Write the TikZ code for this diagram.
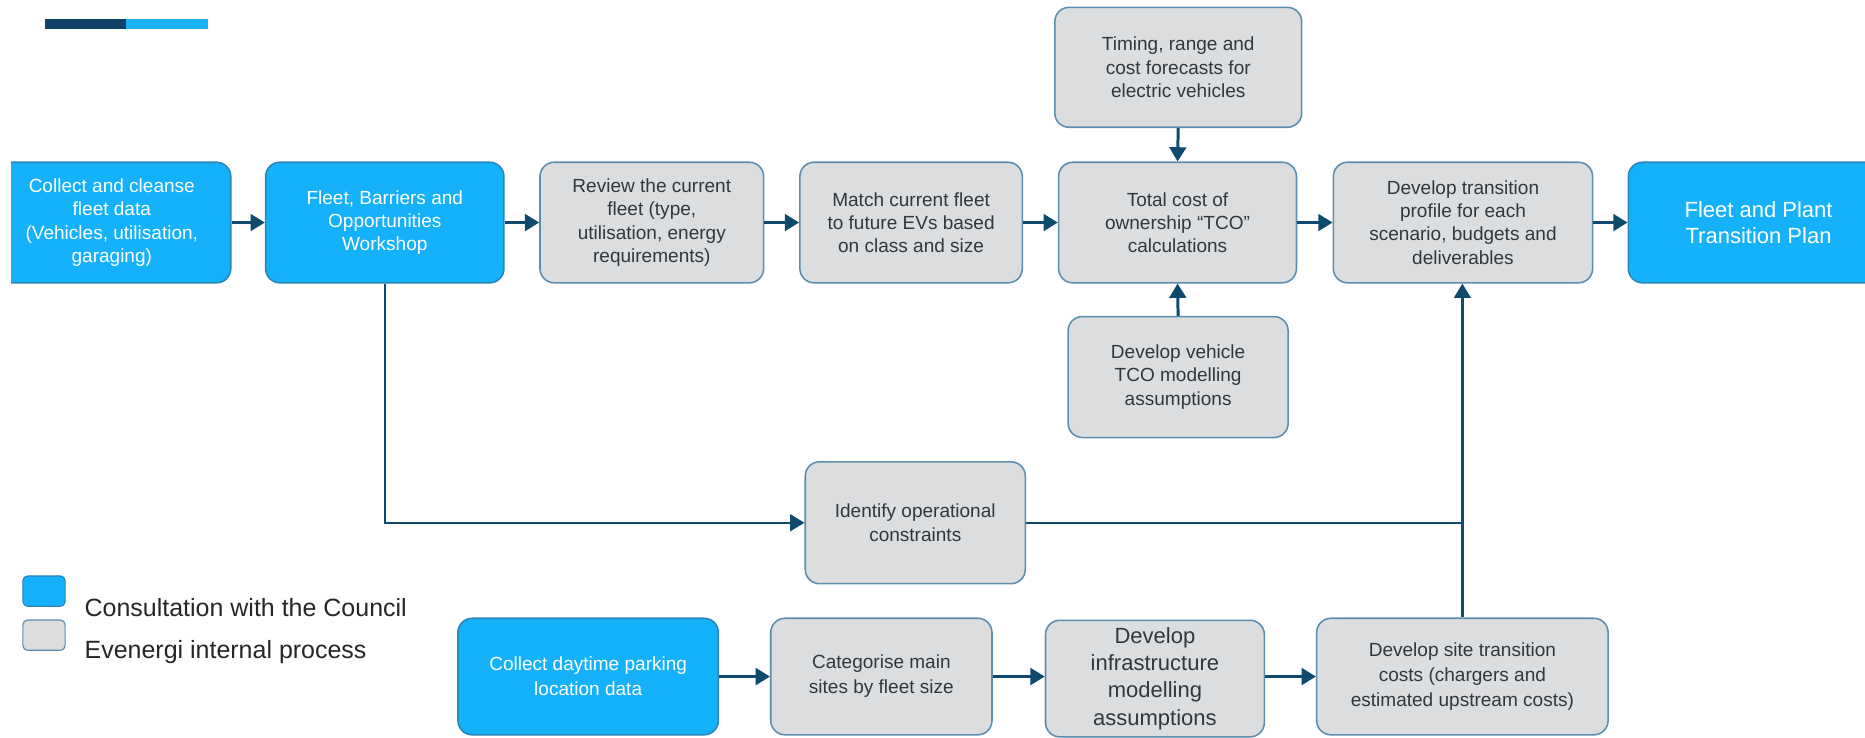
\documentclass[tikz,border=0pt]{standalone}
\usepackage{fontspec}
\setmainfont{Liberation Sans}
\usetikzlibrary{arrows.meta}
\definecolor{cblue}{HTML}{15B1FA}
\definecolor{blueline}{HTML}{2A86B8}
\definecolor{cgray}{HTML}{DCDDDE}
\definecolor{grayline}{HTML}{5B8DAE}
\definecolor{arrowc}{HTML}{0D4A6E}
\definecolor{txtgray}{HTML}{2F3840}
\definecolor{bardark}{HTML}{0F4266}
\definecolor{barlight}{HTML}{1AB2F4}
\tikzset{
  box/.style={line width=1.3pt, rounded corners=12pt, align=center, inner sep=0pt,
    font=\fontsize{16}{19.5}\selectfont},
  bluebox/.style={box, fill=cblue, draw=blueline, text=white},
  graybox/.style={box, fill=cgray, draw=grayline, text=txtgray},
  arr/.style={-{Triangle[length=12pt,width=14pt]}, line width=2.5pt, draw=arrowc},
  conn/.style={line width=2pt, draw=arrowc},
  legtext/.style={anchor=west, inner sep=0pt, text=black!85, font=\fontsize{21}{25}\selectfont},
  legsq/.style={line width=1pt, rounded corners=4pt, minimum width=35.5pt, minimum height=25.5pt, inner sep=0pt}
}
\begin{document}
\begin{tikzpicture}[x=1pt,y=-1pt]
\useasboundingbox (0,0) rectangle (1568,620);
% top bar
\fill[bardark] (37.6,16) rectangle (106.3,24.4);
\fill[barlight] (106.3,16) rectangle (174.5,24.4);
% row 1
\begin{scope}
\clip (9.3,100) rectangle (300,300);
\node[bluebox, minimum width=200pt, minimum height=101.4pt] (b1) at (94,187.1)
  {Collect and cleanse\\fleet data\\(Vehicles, utilisation,\\garaging)};
\end{scope}
\node[bluebox, minimum width=200.4pt, minimum height=101.4pt] (b2) at (323.5,187.1)
  {Fleet, Barriers and\\Opportunities\\Workshop};
\node[graybox, minimum width=188pt, minimum height=101.4pt] (b3) at (548,187.1)
  {Review the current\\fleet (type,\\utilisation, energy\\requirements)};
\node[graybox, minimum width=187pt, minimum height=101.4pt] (b4) at (766,187.1)
  {Match current fleet\\to future EVs based\\on class and size};
\node[graybox, minimum width=200pt, minimum height=101.4pt] (b5) at (990,187.1)
  {Total cost of\\ownership “TCO”\\calculations};
\node[graybox, minimum width=218pt, minimum height=101.4pt] (b6) at (1230,187.1)
  {Develop transition\\profile for each\\scenario, budgets and\\deliverables};
\node[bluebox, minimum width=219pt, minimum height=101.4pt, font=\fontsize{18.5}{22.5}\selectfont] (b7) at (1478.5,187.1)
  {Fleet and Plant\\Transition Plan};
% top and middle
\node[graybox, minimum width=207.6pt, minimum height=100.8pt] (t) at (990.6,56.6)
  {Timing, range and\\cost forecasts for\\electric vehicles};
\node[graybox, minimum width=185pt, minimum height=101.7pt] (v) at (990.5,317)
  {Develop vehicle\\TCO modelling\\assumptions};
\node[graybox, minimum width=185pt, minimum height=102.5pt] (o) at (769.5,439.5)
  {Identify operational\\constraints};
% row 3
\node[bluebox, minimum width=219pt, minimum height=98pt, font=\fontsize{16}{21}\selectfont] (s1) at (494.5,568.8)
  {Collect daytime parking\\location data};
\node[graybox, minimum width=186pt, minimum height=98pt, font=\fontsize{16}{21}\selectfont] (s2) at (741,568.8)
  {Categorise main\\sites by fleet size};
\node[graybox, minimum width=184pt, minimum height=98pt, font=\fontsize{18.5}{23}\selectfont] (s3) at (971,570.5)
  {Develop\\infrastructure\\modelling\\assumptions};
\node[graybox, minimum width=245pt, minimum height=98pt, font=\fontsize{16}{21}\selectfont] (s4) at (1229.5,568.8)
  {Develop site transition\\costs (chargers and\\estimated upstream costs)};
% legend
\node[legsq, fill=cblue, draw=blueline] (l1) at (37,497) {};
\node[legsq, fill=cgray, draw=grayline] (l2) at (37,534) {};
\node[legtext] (lt1) at (71,510.5) {Consultation with the Council};
\node[legtext] (lt2) at (71,548.5) {Evenergi internal process};
% arrows row 1
\draw[arr] (b1.east) -- (b2.west);
\draw[arr] (b2.east) -- (b3.west);
\draw[arr] (b3.east) -- (b4.west);
\draw[arr] (b4.east) -- (b5.west);
\draw[arr] (b5.east) -- (b6.west);
\draw[arr] (b6.east) -- (b7.west);
\draw[arr] (t.south) -- (b5.north);
\draw[arr] (v.north) -- (b5.south);
% connectors
\draw[arr, line width=2pt] (b2.south) |- (o.west);
\coordinate (j) at (s4.north |- o.east);
\draw[conn] (o.east) -- (j);
\draw[arr, line width=2pt] (s4.north) -- (s4.north |- b6.south);
% arrows row 3
\draw[arr] (s1.east) -- (s2.west);
\draw[arr] (s2.east) -- (s3.west |- s2.east);
\draw[arr] (s3.east |- s2.east) -- (s4.west);
\end{tikzpicture}
\end{document}
